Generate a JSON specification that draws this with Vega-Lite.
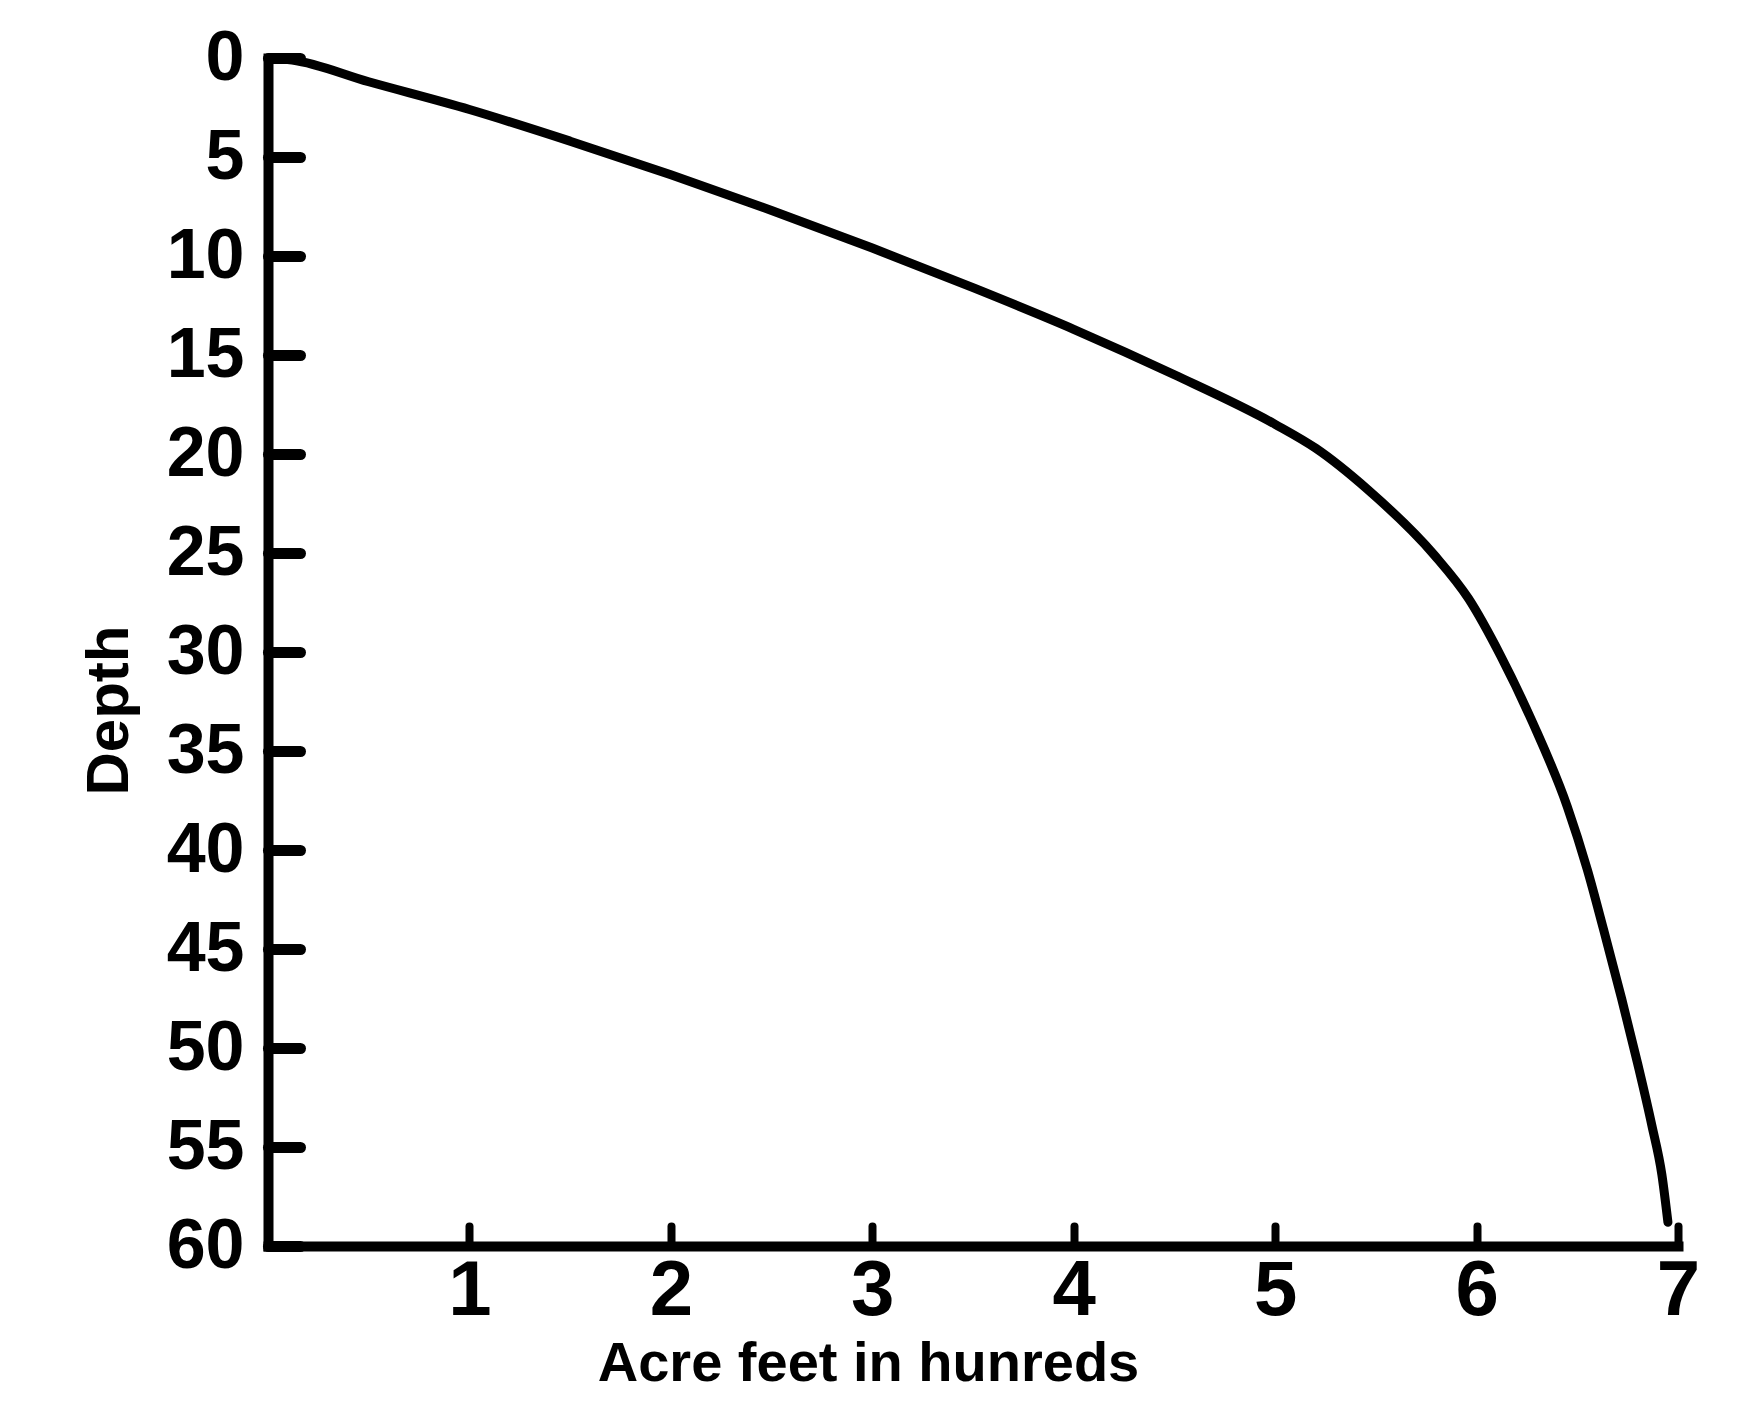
{
  "$schema": "https://vega.github.io/schema/vega-lite/v6.json",
  "width": 1410,
  "height": 1188,
  "autosize": {"type": "none"},
  "padding": {"left": 268, "top": 58, "right": 79, "bottom": 181},
  "background": "white",
  "config": {"view": {"stroke": null}},
  "data": {
    "values": [
      {"acre": 0.0, "depth": 0.0},
      {"acre": 0.12, "depth": 0.1},
      {"acre": 0.5, "depth": 1.2},
      {"acre": 1.0, "depth": 2.6},
      {"acre": 1.5, "depth": 4.2},
      {"acre": 2.0, "depth": 5.9},
      {"acre": 2.5, "depth": 7.7},
      {"acre": 3.0, "depth": 9.6},
      {"acre": 3.5, "depth": 11.6},
      {"acre": 4.0, "depth": 13.7},
      {"acre": 4.5, "depth": 16.0},
      {"acre": 5.0, "depth": 18.5},
      {"acre": 5.2, "depth": 19.7},
      {"acre": 5.46, "depth": 21.8},
      {"acre": 5.79, "depth": 25.1},
      {"acre": 5.96, "depth": 27.3},
      {"acre": 6.12, "depth": 30.2},
      {"acre": 6.28, "depth": 33.6},
      {"acre": 6.45, "depth": 37.8},
      {"acre": 6.55, "depth": 41.0},
      {"acre": 6.63, "depth": 44.0},
      {"acre": 6.72, "depth": 47.5},
      {"acre": 6.8, "depth": 50.8},
      {"acre": 6.87, "depth": 53.9},
      {"acre": 6.92, "depth": 56.4},
      {"acre": 6.95, "depth": 58.8}
    ]
  },
  "mark": {"type": "line", "color": "black", "strokeWidth": 9, "strokeCap": "round", "strokeJoin": "round", "interpolate": "monotone", "clip": false},
  "encoding": {
    "x": {
      "field": "acre",
      "type": "quantitative",
      "scale": {"domain": [0, 7], "nice": false, "zero": false},
      "axis": {
        "title": "Acre feet in hunreds",
        "values": [0, 1, 2, 3, 4, 5, 6, 7],
        "labelExpr": "datum.value == 0 ? '' : datum.label",
        "grid": false,
        "domainColor": "black",
        "domainWidth": 10,
        "domainCap": "square",
        "tickColor": "black",
        "tickWidth": 8,
        "tickSize": -20,
        "tickCap": "round",
        "labelPadding": 26,
        "labelBaseline": "top",
        "labelFont": "Liberation Sans",
        "labelFontWeight": "bold",
        "labelFontSize": 78,
        "labelColor": "black",
        "labelFlush": false,
        "labelOverlap": false,
        "titleFont": "Liberation Sans",
        "titleFontWeight": "bold",
        "titleFontSize": 56,
        "titleColor": "black",
        "titleX": 600,
        "titleY": 134,
        "titleBaseline": "alphabetic",
        "titleAlign": "center"
      }
    },
    "y": {
      "field": "depth",
      "type": "quantitative",
      "scale": {"domain": [0, 60], "reverse": true, "nice": false, "zero": false},
      "axis": {
        "title": "Depth",
        "values": [0, 5, 10, 15, 20, 25, 30, 35, 40, 45, 50, 55, 60],
        "grid": false,
        "domainColor": "black",
        "domainWidth": 10,
        "domainCap": "square",
        "tickColor": "black",
        "tickWidth": 11,
        "tickSize": -32,
        "tickCap": "round",
        "labelPadding": 56,
        "labelAlign": "right",
        "labelBaseline": "middle",
        "labelFont": "Liberation Sans",
        "labelFontWeight": "bold",
        "labelFontSize": 70,
        "labelColor": "black",
        "labelFlush": false,
        "labelOverlap": false,
        "titleFont": "Liberation Sans",
        "titleFontWeight": "bold",
        "titleFontSize": 60,
        "titleColor": "black",
        "titleAngle": -90,
        "titleX": -159,
        "titleY": 652,
        "titleAlign": "center",
        "titleBaseline": "middle"
      }
    }
  }
}
